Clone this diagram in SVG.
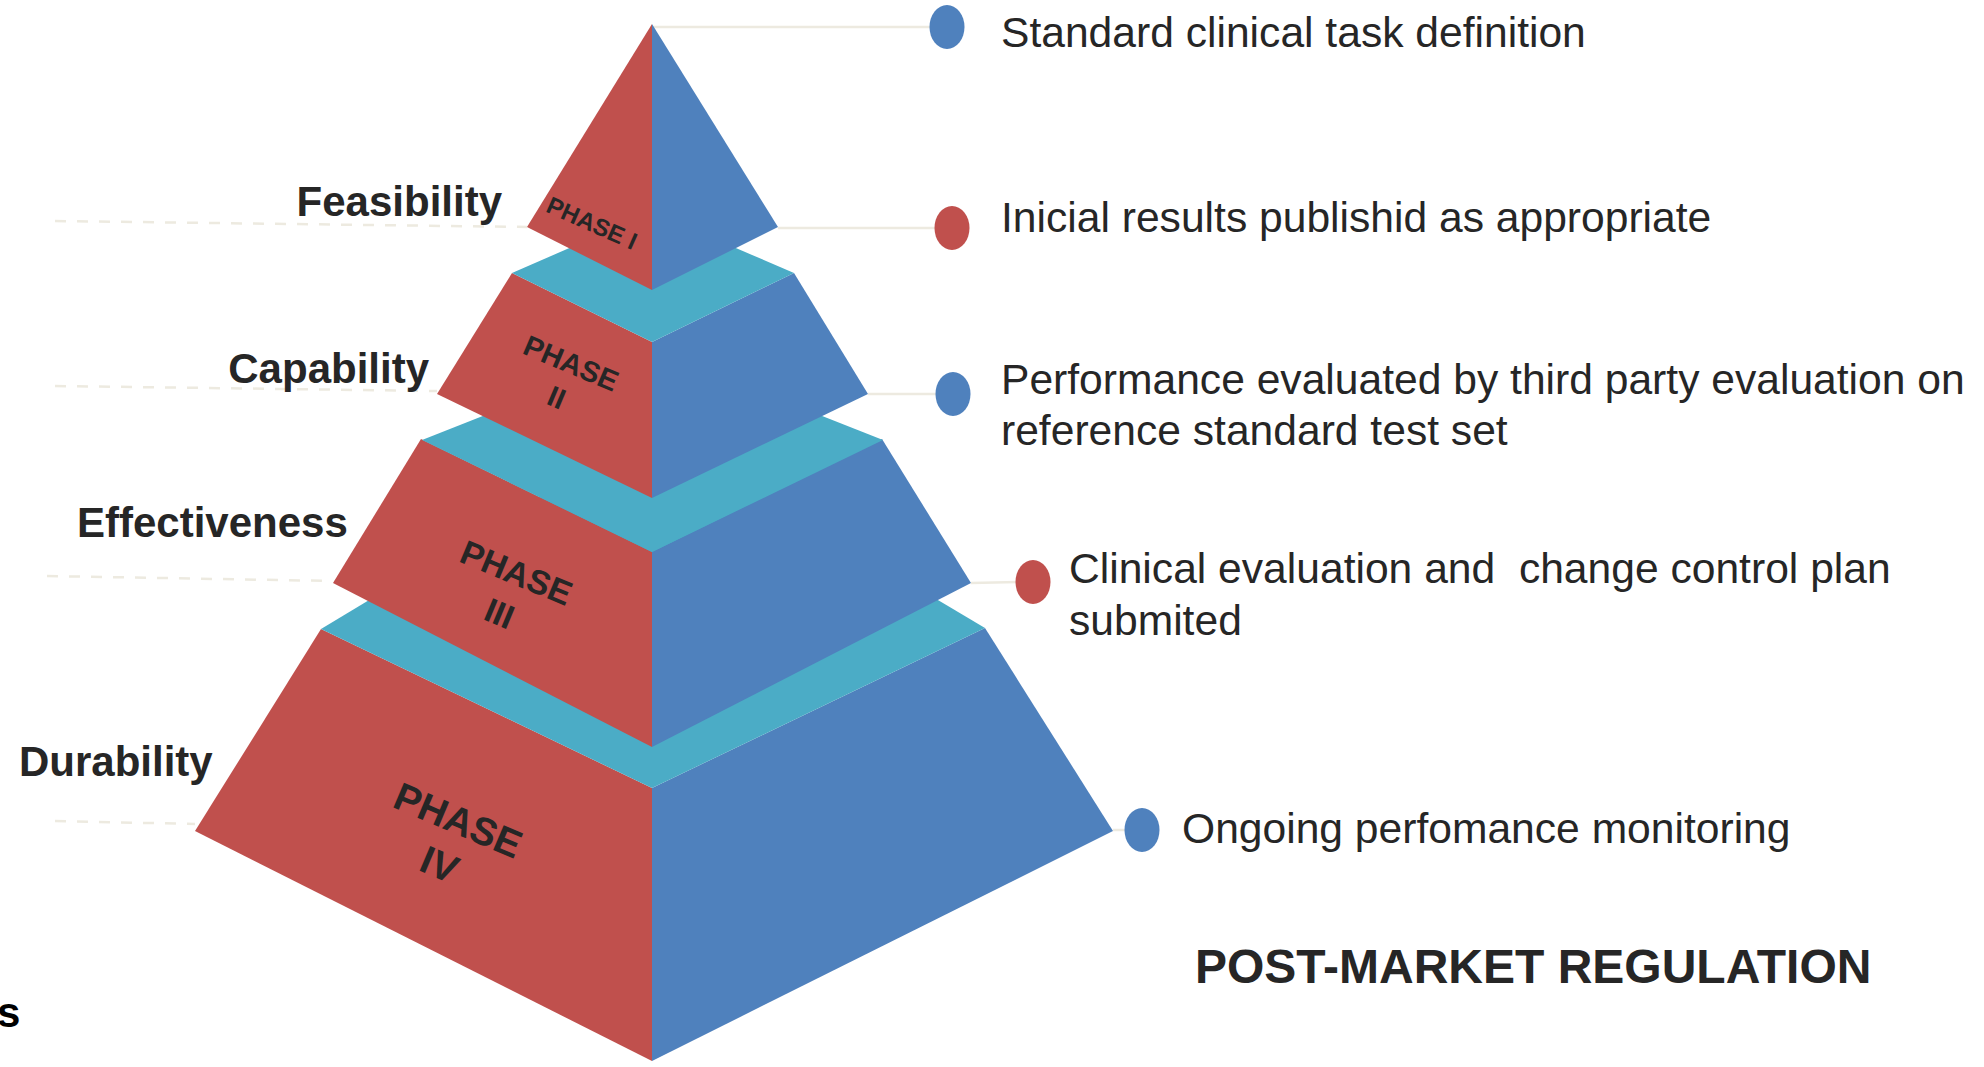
<svg xmlns="http://www.w3.org/2000/svg" width="1984" height="1067" viewBox="0 0 1984 1067">
<style>
.red{fill:#C0504D}
.blue{fill:#4F81BD}
.teal{fill:#4BACC6}
.lbl{font-family:"Liberation Sans",Arial,sans-serif;font-weight:bold;font-size:42px;fill:#262626}
.ph{font-family:"Liberation Sans",Arial,sans-serif;font-weight:bold;fill:#262626;text-anchor:middle}
.desc{font-family:"Liberation Sans",Arial,sans-serif;font-size:42.6px;fill:#262626;white-space:pre}
.dash{stroke:#EDEAE0;stroke-width:2.5;stroke-dasharray:11 11;fill:none}
.solid{stroke:#EDEAE0;stroke-width:2.5;fill:none}
</style>
<rect width="1984" height="1067" fill="#FFFFFF"/>
<g id="connectors">
<line class="dash" x1="55" y1="221" x2="527" y2="227"/>
<line class="dash" x1="55" y1="386" x2="437" y2="391"/>
<line class="dash" x1="47" y1="576" x2="333" y2="581"/>
<line class="dash" x1="55" y1="821" x2="195" y2="824"/>
<line class="solid" x1="652" y1="27" x2="932" y2="27"/>
<line class="solid" x1="778" y1="228" x2="938" y2="228"/>
<line class="solid" x1="868" y1="394" x2="938" y2="394"/>
<line class="solid" x1="971" y1="583" x2="1018" y2="582"/>
<line class="solid" x1="1113" y1="830" x2="1126" y2="830"/>
</g>
<g id="phase4">
<polygon class="red" points="321,629 652,788 652,1061 195,831"/>
<polygon class="blue" points="652,788 985,628 1113,831 652,1061"/>
<polygon class="teal" points="321,629 652,430 985,628 652,788"/>
<g transform="translate(449,842) rotate(23)"><text class="ph" font-size="39" x="0" y="-10">PHASE</text><text class="ph" font-size="39" x="0" y="38">IV</text></g>
</g>
<g id="phase3">
<polygon class="red" points="421,439 652,552 652,747 333,583"/>
<polygon class="blue" points="652,552 882,439 971,583 652,747"/>
<polygon class="teal" points="422,440 652,349 883,440 652,552"/>
<g transform="translate(508,593) rotate(22.5)"><text class="ph" font-size="34" x="0" y="-10">PHASE</text><text class="ph" font-size="34" x="0" y="34">III</text></g>
</g>
<g id="phase2">
<polygon class="red" points="512,273 652,342 652,498 437,394"/>
<polygon class="blue" points="652,342 794,273 868,394 652,498"/>
<polygon class="teal" points="512,273 652,212 794,273 652,342"/>
<g transform="translate(564,380) rotate(23)"><text class="ph" font-size="29" x="0" y="-8">PHASE</text><text class="ph" font-size="29" x="0" y="29">II</text></g>
</g>
<g id="phase1">
<polygon class="red" points="652,24 652,290 527,227"/>
<polygon class="blue" points="652,24 778,227 652,290"/>
<g transform="translate(592,223) rotate(24)"><text class="ph" font-size="24" x="0" y="8.5">PHASE I</text></g>
</g>
<g id="label-feasibility"><text class="lbl" x="502" y="216" text-anchor="end">Feasibility</text></g>
<g id="label-capability"><text class="lbl" x="429" y="383" text-anchor="end">Capability</text></g>
<g id="label-effectiveness"><text class="lbl" x="77" y="537">Effectiveness</text></g>
<g id="label-durability"><text class="lbl" x="19" y="776">Durability</text></g>
<g id="label-s"><text x="-3" y="1027" font-family="'Liberation Sans',Arial,sans-serif" font-weight="bold" font-size="42" fill="#000000">s</text></g>
<g id="item1"><ellipse class="blue" cx="947" cy="27" rx="17.5" ry="22"/><text class="desc" x="1001" y="47">Standard clinical task definition</text></g>
<g id="item2"><ellipse class="red" cx="952" cy="228" rx="17.5" ry="22"/><text class="desc" x="1001" y="232">Inicial results publishid as appropriate</text></g>
<g id="item3"><ellipse class="blue" cx="953" cy="394" rx="17.5" ry="22"/><text class="desc" x="1001" y="394">Performance evaluated by third party evaluation on</text><text class="desc" x="1001" y="445">reference standard test set</text></g>
<g id="item4"><ellipse class="red" cx="1033" cy="582" rx="17.5" ry="22"/><text class="desc" x="1069" y="583">Clinical evaluation and  change control plan</text><text class="desc" x="1069" y="635">submited</text></g>
<g id="item5"><ellipse class="blue" cx="1142" cy="830" rx="17.5" ry="22"/><text class="desc" x="1182" y="843">Ongoing perfomance monitoring</text></g>
<g id="title"><text x="1195" y="983" font-family="'Liberation Sans',Arial,sans-serif" font-weight="bold" font-size="48" fill="#262626">POST-MARKET REGULATION</text></g>
</svg>
